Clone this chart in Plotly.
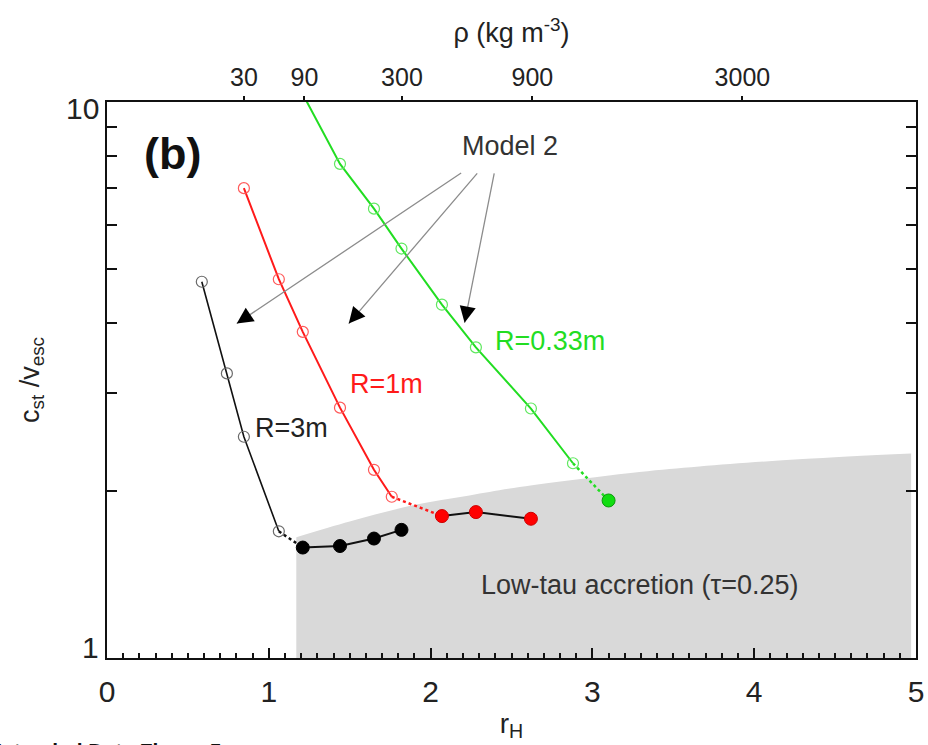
import numpy as np
import plotly.graph_objects as go

FONT = "Liberation Sans, Arial, sans-serif"

# Hill-radius ratio scales with the cube root of bulk density (kg m^-3)
RH_PER_CBRT_RHO = 0.2723

# Axis ticks
x_ticks = [0, 1, 2, 3, 4, 5]
y_ticks = [1, 2, 3, 4, 5, 6, 7, 8, 9, 10]
y_labelled = [1, 10]
y_tick_labels = ["1", "10"]
rho_ticks = [30, 90, 300, 900, 3000]
rho_tick_labels = ["30", "90", "300", "900", "3000"]

# R = 3 m : Model 2 (open) and low-tau accretion (filled)
r3_model_rh = [0.586, 0.741, 0.846, 1.062]
r3_model_c = [4.75, 3.25, 2.50, 1.69]
r3_acc_rh = [1.21, 1.44, 1.65, 1.82]
r3_acc_c = [1.58, 1.59, 1.64, 1.70]

# R = 1 m
r1_model_rh = [0.846, 1.062, 1.21, 1.44, 1.65, 1.76]
r1_model_c = [7.0, 4.80, 3.86, 2.82, 2.18, 1.95]
r1_acc_rh = [2.07, 2.28, 2.62]
r1_acc_c = [1.80, 1.83, 1.78]

# R = 0.33 m (first point lies just above the plotted range)
r033_model_rh = [1.22, 1.44, 1.65, 1.82, 2.07, 2.28, 2.62, 2.88]
r033_model_c = [10.2, 7.74, 6.43, 5.45, 4.32, 3.62, 2.81, 2.24]
r033_acc_rh = [3.10]
r033_acc_c = [1.92]

# Upper edge of the low-tau accretion regime
lowtau_rh = [1.17, 1.50, 1.89, 2.24, 2.55, 3.29, 3.66, 4.30, 4.97]
lowtau_c = [1.649, 1.760, 1.882, 1.961, 2.030, 2.161, 2.211, 2.280, 2.333]

fig = go.Figure()

# shaded low-tau region
fig.add_trace(go.Scatter(x=[lowtau_rh[0], lowtau_rh[-1]], y=[1, 1], mode="lines",
                         line=dict(width=0, color="#d9d9d9"), hoverinfo="skip"))
fig.add_trace(go.Scatter(x=lowtau_rh, y=lowtau_c, mode="lines", fill="tonexty",
                         fillcolor="#d9d9d9", line=dict(width=0, color="#d9d9d9", shape="spline"),
                         hoverinfo="skip"))

series = [
    dict(mx=r3_model_rh, my=r3_model_c, ax=r3_acc_rh, ay=r3_acc_c,
         line="#111111", ring="#6a6a6a", fill="#000000", edge="#000000", lw=1.6, skip=0),
    dict(mx=r1_model_rh, my=r1_model_c, ax=r1_acc_rh, ay=r1_acc_c,
         line="#ff1a1a", ring="#ff5a5a", fill="#ff0000", edge="#cc0000", lw=2, skip=0),
    dict(mx=r033_model_rh, my=r033_model_c, ax=r033_acc_rh, ay=r033_acc_c,
         line="#22dd22", ring="#5fe85f", fill="#11dd11", edge="#0a9a0a", lw=2, skip=1),
]

for s in series:
    # dotted link from the last Model 2 point to the first accretion point
    fig.add_trace(go.Scatter(x=[s["mx"][-1], s["ax"][0]], y=[s["my"][-1], s["ay"][0]],
                             mode="lines", line=dict(color=s["line"], width=2.5, dash="dot"),
                             hoverinfo="skip"))
    fig.add_trace(go.Scatter(x=s["mx"], y=s["my"], mode="lines",
                             line=dict(color=s["line"], width=s["lw"]), hoverinfo="skip"))
    fig.add_trace(go.Scatter(x=s["mx"][s["skip"]:], y=s["my"][s["skip"]:], mode="markers",
                             marker=dict(symbol="circle-open", size=11, color=s["ring"],
                                         line=dict(width=1.2)),
                             hoverinfo="skip"))
    fig.add_trace(go.Scatter(x=s["ax"], y=s["ay"], mode="lines+markers",
                             line=dict(color="#111111", width=2),
                             marker=dict(symbol="circle", size=13, color=s["fill"],
                                         line=dict(color=s["edge"], width=1)),
                             hoverinfo="skip"))

# keeps the density axis on top alive
fig.add_trace(go.Scatter(x=[0, 5], y=[1, 1], xaxis="x2", mode="markers",
                         marker=dict(opacity=0), hoverinfo="skip"))

annotations = []


def text(x, y, s, size=27, color="#222222", **kw):
    annotations.append(dict(x=x, y=np.log10(y), xref="x", yref="y", text=s, showarrow=False,
                            font=dict(family=FONT, size=size, color=color), **kw))


text(0.405, 10 ** 0.9066, "<b>(b)</b>", size=45, color="#111111")
text(2.488, 10 ** 0.921, "Model 2", size=27, color="#333333")
text(1.728, 10 ** 0.4937, "R=1m", size=27, color="#ff1a1a")
text(1.142, 10 ** 0.413, "R=3m", size=27, color="#222222")
text(2.741, 10 ** 0.5709, "R=0.33m", size=27, color="#22dd22")
text(3.296, 10 ** 0.131, "Low-tau accretion (\u03c4=0.25)", size=27, color="#333333")

# y tick labels, nudged inside the decade as in the original figure
for v, lab in zip(y_labelled, y_tick_labels):
    annotations.append(dict(x=0, y=np.log10(v), xref="paper", yref="y", text=lab,
                            showarrow=False, xanchor="right", xshift=-6,
                            yshift=11 if v == y_labelled[0] else -6,
                            font=dict(family=FONT, size=30, color="#222222")))

# Model 2 arrows: grey shafts, black heads
arrows = [((2.198, 7.485), (0.802, 3.995)),
          ((2.296, 7.485), (1.494, 3.995)),
          ((2.395, 7.485), (2.210, 4.010))]
for (tx, ty), (hx, hy) in arrows:
    annotations.append(dict(x=hx, y=np.log10(hy), ax=tx, ay=np.log10(ty), xref="x", yref="y",
                            axref="x", ayref="y", text="", showarrow=True, arrowhead=0,
                            arrowwidth=1.3, arrowcolor="#8c8c8c"))
    f = 0.05
    annotations.append(dict(x=hx, y=np.log10(hy), ax=hx + f * (tx - hx),
                            ay=np.log10(hy) + f * (np.log10(ty) - np.log10(hy)),
                            xref="x", yref="y", axref="x", ayref="y", text="", showarrow=True,
                            arrowhead=2, arrowsize=2.7, arrowwidth=1.2, arrowcolor="#000000"))

annotations.append(dict(x=-0.1496, y=-0.142, xref="paper", yref="paper", xanchor="left",
                        yanchor="top", showarrow=False, text="<b>Extended Data Figure 5</b>",
                        font=dict(family=FONT, size=21, color="#111111")))

fig.update_layout(
    width=928, height=745,
    margin=dict(l=107, r=12, t=102, b=87, autoexpand=False),
    paper_bgcolor="white", plot_bgcolor="white",
    showlegend=False,
    font=dict(family=FONT, color="#222222"),
    annotations=annotations,
    xaxis=dict(range=[0, 5], tickvals=x_ticks, ticks="inside", ticklen=10, tickwidth=2,
               tickcolor="#111111", showline=True, linewidth=2, linecolor="#111111",
               mirror=True, showgrid=False, zeroline=False,
               minor=dict(dtick=0.1, tick0=0, ticks="inside", ticklen=5, tickwidth=1.5,
                          tickcolor="#111111", showgrid=False),
               tickfont=dict(size=30, color="#222222"), ticklabelstandoff=6,
               title=dict(text="r<sub>H</sub>", font=dict(size=28, color="#222222"), standoff=6)),
    xaxis2=dict(overlaying="x", side="top", anchor="y", range=[0, 5],
                tickvals=[RH_PER_CBRT_RHO * r ** (1 / 3) for r in rho_ticks],
                ticktext=rho_tick_labels, ticks="outside", ticklen=5, tickwidth=2,
                tickcolor="#111111", showline=False, showgrid=False, zeroline=False,
                tickfont=dict(size=25, color="#222222"),
                title=dict(text="\u03c1 (kg m<sup>-3</sup>)", font=dict(size=27, color="#222222"),
                           standoff=12)),
    yaxis=dict(type="log", range=[0, 1], tickvals=y_ticks, showticklabels=False,
               ticks="inside", ticklen=10, tickwidth=2, tickcolor="#111111",
               showline=True, linewidth=2, linecolor="#111111", mirror="ticks",
               showgrid=False, zeroline=False,
               title=dict(text="c<sub>st</sub> /v<sub>esc</sub>", font=dict(size=27, color="#222222"),
                          standoff=58)),
)

fig.write_html("out.html")
